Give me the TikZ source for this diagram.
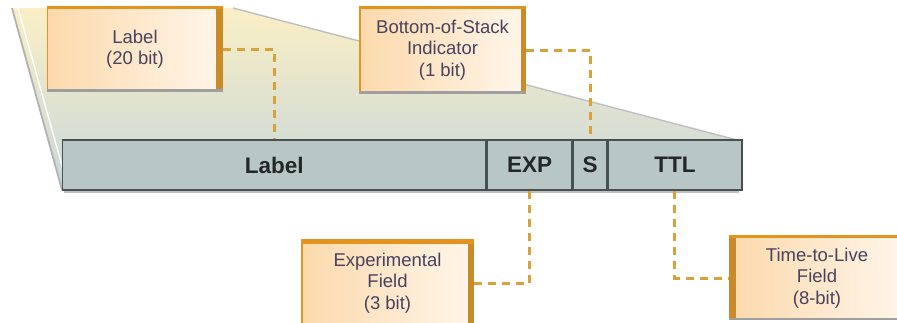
\documentclass[tikz,border=0pt]{standalone}
\usepackage{fontspec}
\setmainfont{Liberation Sans}

\definecolor{peach}{HTML}{FCD9AC}
\definecolor{cream}{HTML}{FFF6EA}
\definecolor{boxorange}{HTML}{E5931F}
\definecolor{edgeorange}{HTML}{CB8A2A}
\definecolor{dashgold}{HTML}{D6A23A}
\definecolor{barfill}{HTML}{B8C7C5}
\definecolor{barline}{HTML}{465252}
\definecolor{boxtext}{HTML}{48425F}
\definecolor{bartext}{HTML}{222828}
\definecolor{zoomtop}{HTML}{FAEFC6}
\definecolor{zoombot}{HTML}{C8D7D9}

\begin{document}
\begin{tikzpicture}[x=1pt,y=-1pt,
  infobox/.style={rectangle, draw=boxorange, line width=1.2pt,
    left color=peach, right color=cream, text=boxtext,
    font=\fontsize{18.5}{21.5}\selectfont, align=center, inner sep=0pt},
  field/.style={rectangle, draw=barline, line width=1.4pt, fill=barfill,
    text=bartext, font=\fontsize{22.5}{24}\selectfont\bfseries,
    minimum height=50pt, inner sep=0pt, anchor=west},
  deepside/.style={fill=edgeorange},
  topside/.style={boxorange, line width=3pt},
  baseside/.style={gray!75, line width=2.5pt},
  leader/.style={dashgold, line width=3pt, dash pattern=on 8pt off 6pt}
]
% canvas
\clip (0,0) rectangle (897,322);
\fill[white] (0,0) rectangle (897,322);

% magnified header region behind the boxes
\shade[top color=zoomtop, bottom color=zoombot]
  (12,8) -- (233,8) -- (737,140) -- (737,190) -- (62,190) -- cycle;
\draw[gray!60, line width=1.8pt] (12,8) -- (62,190);
\draw[white, line width=1.4pt] (18,8) -- (66,180);
\draw[gray!50, line width=1.4pt] (233,8) -- (737,140);

% upper description boxes
\node[infobox, minimum width=175pt, minimum height=82pt] (lbl) at (135,49) {Label\\(20 bit)};
\node[infobox, minimum width=165pt, minimum height=84pt] (bos) at (442.5,50) {Bottom-of-Stack\\Indicator\\(1 bit)};

% lower description boxes
\node[infobox, minimum width=171pt, minimum height=82pt] (exf) at (387.5,283) {Experimental\\Field\\(3 bit)};
\node[infobox, minimum width=174pt, minimum height=81pt] (ttlf) at (817,278) {Time-to-Live\\Field\\(8-bit)};

% box trims
\fill[deepside] ([xshift=-7pt]lbl.north east) rectangle (lbl.south east);
\draw[topside] (lbl.north west) -- (lbl.north east);
\draw[baseside] (lbl.south west) -- (lbl.south east);

\fill[deepside] ([xshift=-5pt]bos.north east) rectangle (bos.south east);
\draw[topside] (bos.north west) -- (bos.north east);
\draw[baseside] (bos.south west) -- (bos.south east);

\fill[deepside] ([xshift=-6pt]exf.north east) rectangle (exf.south east);
\draw[topside, line width=4.5pt] (exf.north west) -- (exf.north east);

\fill[deepside] (ttlf.north west) rectangle ([xshift=7pt]ttlf.south west);
\draw[topside] (ttlf.north west) -- (ttlf.north east);
\draw[baseside] (ttlf.south west) -- (ttlf.south east);

% header fields
\draw[gray!50, line width=2pt] (64,192) -- (739,192);
\node[field, minimum width=423pt] (fLabel) at (62,165) {Label};
\node[field, minimum width=85pt] (fEXP) at (fLabel.east) {EXP};
\node[field, minimum width=33pt] (fS) at (fEXP.east) {S};
\node[field, minimum width=134pt] (fTTL) at (fS.east) {TTL};

% leaders from fields to their descriptions
\draw[leader] (lbl.east) -| (fLabel.north);
\draw[leader] (bos.east) -| (fS.north);
\draw[leader] (fEXP.south) |- (exf.east);
\draw[leader] (fTTL.south) |- (ttlf.west);
\end{tikzpicture}
\end{document}
